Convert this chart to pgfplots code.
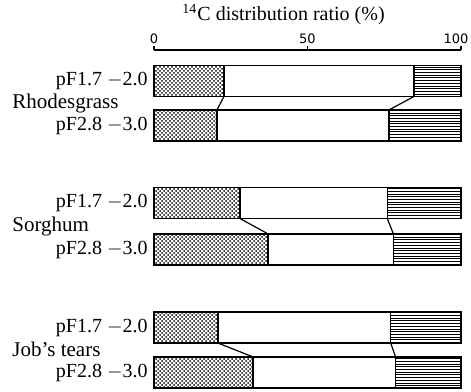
\documentclass[border=0pt]{standalone}
\usepackage{fontspec}
\setmainfont{Liberation Serif}
\newfontfamily\tickfont{DejaVu Sans}
\usepackage{pgfplots}
\pgfplotsset{compat=1.18}
\usetikzlibrary{patterns}

% dense diagonal dot grid for the first fraction
\pgfdeclarepatternformonly{densedots}{\pgfqpoint{-0.5pt}{-0.5pt}}{\pgfqpoint{2.5pt}{2.5pt}}{\pgfqpoint{2.0pt}{2.0pt}}{%
  \pgfpathcircle{\pgfqpoint{0pt}{0pt}}{0.5pt}%
  \pgfpathcircle{\pgfqpoint{1.0pt}{1.0pt}}{0.5pt}%
  \pgfusepath{fill}}
% close horizontal hatching for the third fraction
\pgfdeclarepatternformonly{denselines}{\pgfqpoint{-1pt}{-1pt}}{\pgfqpoint{11pt}{2.35pt}}{\pgfqpoint{10pt}{1.35pt}}{%
  \pgfsetlinewidth{0.35pt}%
  \pgfpathmoveto{\pgfqpoint{-1pt}{0pt}}%
  \pgfpathlineto{\pgfqpoint{11pt}{0pt}}%
  \pgfusepath{stroke}}

% rows run downwards, so row positions are negative
\pgfplotsset{
  samebox/.style={
    scale only axis, width=153.5pt, height=170.5pt,
    xmin=0, xmax=100, ymin=-39.1, ymax=-5.0,
    enlargelimits=false, clip=false,
  },
}
\tikzset{
  rowlbl/.style={font=\fontsize{10}{11}\selectfont, anchor=east, inner sep=1pt},
  grplbl/.style={font=\fontsize{10.5}{12}\selectfont, anchor=west, inner sep=0pt},
}

\begin{document}
\begin{tikzpicture}
\begin{axis}[samebox,
    xbar stacked, bar width=3.1,
    axis x line*=top, axis y line=none,
    xtick={0,50,100}, xticklabels={0,50,\kern-5pt100},
    xticklabel style={font=\tickfont\fontsize{6.5}{7}\selectfont, anchor=south, inner sep=0pt, yshift=1pt},
    tick align=outside, major tick length=2pt,
    x axis line style={line width=0.6pt},
    tick style={line width=0.6pt, black},
  ]
  % fraction 1 (dotted)
  \addplot[draw=black, line width=0.8pt, pattern=densedots, pattern color=black] coordinates {
    (22.8,-8.1) (20.5,-12.55) (28.0,-20.3) (37.2,-24.95) (20.8,-32.75) (32.3,-37.25)};
  % fraction 2 (blank)
  \addplot[draw=black, line width=0.8pt, fill=white] coordinates {
    (61.9,-8.1) (56.0,-12.55) (48.0,-20.3) (40.8,-24.95) (56.3,-32.75) (46.4,-37.25)};
  % fraction 3 (horizontal lines)
  \addplot[draw=black, line width=0.8pt, pattern=denselines, pattern color=black] coordinates {
    (15.3,-8.1) (23.5,-12.55) (24.0,-20.3) (22.0,-24.95) (22.9,-32.75) (21.3,-37.25)};

  \node[anchor=base, font=\fontsize{10}{12}\selectfont] at (axis cs:42.2,-2.05) {\textsuperscript{14}C distribution ratio (\%)};

  \node[rowlbl] at (axis cs:-1.3,-8.1) {pF1.7 $-$2.0};
  \node[rowlbl] at (axis cs:-1.3,-12.55) {pF2.8 $-$3.0};
  \node[rowlbl] at (axis cs:-1.3,-20.3) {pF1.7 $-$2.0};
  \node[rowlbl] at (axis cs:-1.3,-24.95) {pF2.8 $-$3.0};
  \node[rowlbl] at (axis cs:-1.3,-32.75) {pF1.7 $-$2.0};
  \node[rowlbl] at (axis cs:-1.3,-37.25) {pF2.8 $-$3.0};
  \node[grplbl] at (axis cs:-46.25,-10.3) {Rhodesgrass};
  \node[grplbl] at (axis cs:-46.25,-22.6) {Sorghum};
  \node[grplbl] at (axis cs:-46.25,-34.95) {Job\symbol{"0027}s tears};

  \coordinate (bbA) at (axis cs:-50.16,0);
  \coordinate (bbB) at (axis cs:103.26,-39.1);
\end{axis}

% connectors between the fraction boundaries of paired bars
\begin{axis}[samebox, hide axis]
  \addplot[black, line width=0.6pt] coordinates {(22.8,-9.65) (20.5,-11.0)};
  \addplot[black, line width=0.6pt] coordinates {(84.7,-9.65) (76.5,-11.0)};
  \addplot[black, line width=0.6pt] coordinates {(28.0,-21.85) (37.2,-23.4)};
  \addplot[black, line width=0.6pt] coordinates {(76.0,-21.85) (78.0,-23.4)};
  \addplot[black, line width=0.6pt] coordinates {(20.8,-34.3) (32.3,-35.7)};
  \addplot[black, line width=0.6pt] coordinates {(77.1,-34.3) (78.7,-35.7)};
\end{axis}

\pgfresetboundingbox
\path[use as bounding box] (bbA) rectangle (bbB);
\end{tikzpicture}
\end{document}
